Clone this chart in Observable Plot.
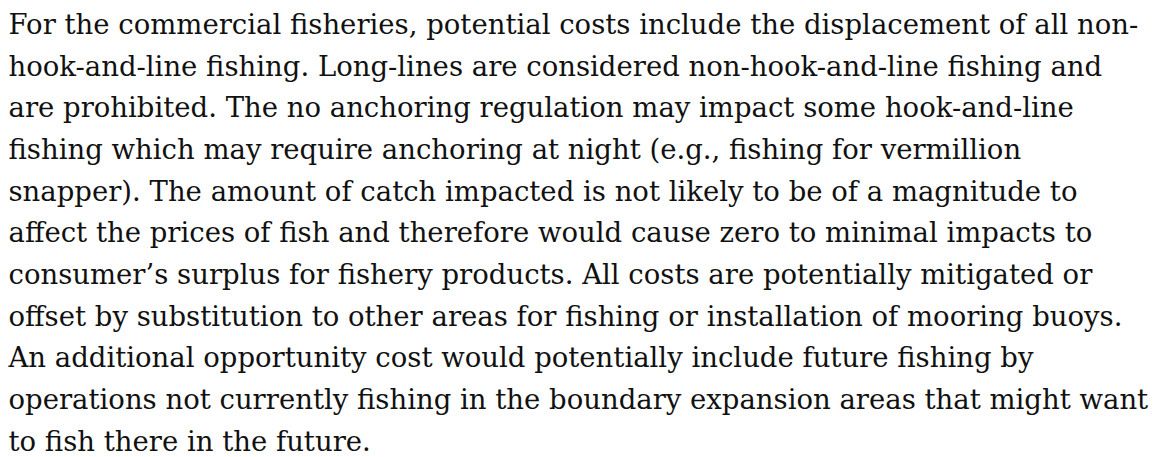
<!DOCTYPE html>
<html>
<head>
<meta charset="utf-8">
<script src="https://cdn.jsdelivr.net/npm/d3@7"></script>
<script src="https://cdn.jsdelivr.net/npm/@observablehq/plot@0.6"></script>
<style>
  html, body { margin: 0; padding: 0; background: #fff; }
  #chart svg { display: block; }
</style>
</head>
<body>
<div id="chart"></div>
<script>
const lines = [
  "For the commercial fisheries, potential costs include the displacement of all non-",
  "hook-and-line fishing. Long-lines are considered non-hook-and-line fishing and",
  "are prohibited. The no anchoring regulation may impact some hook-and-line",
  "fishing which may require anchoring at night (e.g., fishing for vermillion",
  "snapper). The amount of catch impacted is not likely to be of a magnitude to",
  "affect the prices of fish and therefore would cause zero to minimal impacts to",
  "consumer\u2019s surplus for fishery products. All costs are potentially mitigated or",
  "offset by substitution to other areas for fishing or installation of mooring buoys.",
  "An additional opportunity cost would potentially include future fishing by",
  "operations not currently fishing in the boundary expansion areas that might want",
  "to fish there in the future."
];
const lineIndex = lines.map((_, i) => i);
const rows = lines.map((t, i) => ({line: lineIndex[i], text: t}));

const chart = Plot.plot({
  width: 1166,
  height: 457,
  margin: 0,
  style: {background: "#fff"},
  x: {domain: [0, 1], range: [8, 1161], axis: null},
  y: {domain: [0, 10], range: [33.5, 450], axis: null},
  marks: [
    Plot.text(rows, {
      x: () => 0,
      y: "line",
      text: "text",
      textAnchor: "start",
      lineAnchor: "bottom",
      fontFamily: "'DejaVu Serif', serif",
      fontSize: 27.5,
      fill: "#111"
    })
  ]
});
document.getElementById("chart").append(chart);
</script>
</body>
</html>
